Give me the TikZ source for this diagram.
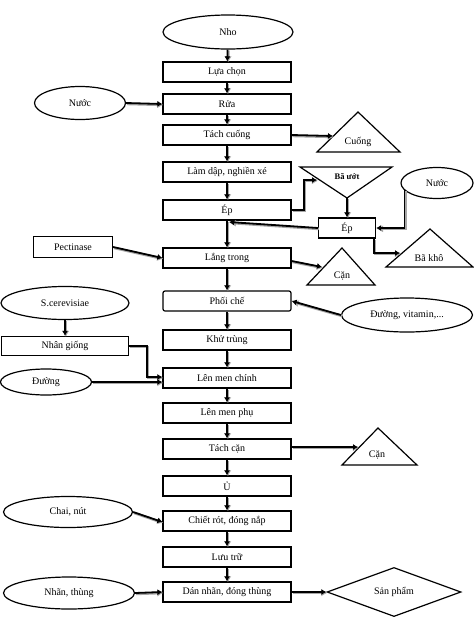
\documentclass[tikz,border=0pt]{standalone}
\usepackage{fontspec}
\setmainfont{Liberation Serif}
\usepackage{tikz}
\usetikzlibrary{calc}
\usetikzlibrary{arrows.meta}
\usetikzlibrary{shapes}
\usetikzlibrary{shapes.geometric}
\tikzset{>=latex}
\tikzstyle{stepbox} = [rectangle, draw=black, line width=1.2pt, minimum width=128pt, minimum height=20pt, inner sep=0pt]
\tikzstyle{sidebox} = [rectangle, draw=black, line width=1.2pt, inner sep=0pt]
\tikzstyle{oval} = [ellipse, draw=black, line width=1.2pt, inner sep=0pt]
\tikzstyle{tri} = [draw=black, line width=1.2pt, line join=miter]
\tikzstyle{flow} = [-{Latex[length=5pt, width=6pt]}, line width=1.8pt, draw=black, preaction={draw=black!35, line width=2.6pt, -{Latex[length=6pt, width=7pt]}, transform canvas={shift={(0.9pt,-0.9pt)}}}]

\begin{document}
\begin{tikzpicture}[x=1pt, y=-1pt, font=\fontsize{10}{12}\selectfont]
\useasboundingbox (0, 0) rectangle (474, 625);
\node [oval, minimum width=130pt, minimum height=34pt] (nho) at (228, 32) {Nho};
\node [stepbox] (lua) at (227, 72) {Lựa chọn};
\node [stepbox] (rua) at (227, 104) {Rửa};
\node [stepbox] (tach) at (227, 135) {Tách cuống};
\node [stepbox] (lam) at (227, 172) {Làm dập, nghiền xé};
\node [stepbox] (ep) at (227, 210) {Ép};
\node [stepbox] (lang) at (227, 258) {Lắng trong};
\node [stepbox, rounded corners=2pt] (phoi) at (227, 301) {Phối chế};
\node [stepbox] (khu) at (227, 340) {Khử trùng};
\node [stepbox] (chinh) at (227, 378) {Lên men chính};
\node [stepbox] (phu) at (227, 413) {Lên men phụ};
\node [stepbox] (tachcan) at (227, 449) {Tách cặn};
\node [stepbox] (u) at (227, 486) {Ủ};
\node [stepbox] (chiet) at (227, 521) {Chiết rót, đóng nắp};
\node [stepbox] (luu) at (227, 557) {Lưu trữ};
\node [stepbox] (dan) at (227, 592) {Dán nhãn, đóng thùng};

\node [oval, minimum width=91pt, minimum height=33pt] (nuoc1) at (80, 103) {Nước};
\node [oval, minimum width=72pt, minimum height=31pt] (nuoc2) at (437, 183) {Nước};
\node [sidebox, minimum width=57pt, minimum height=20pt] (epphu) at (347, 228) {Ép};
\node [sidebox, minimum width=79pt, minimum height=21pt] (pect) at (73, 247) {Pectinase};
\node [oval, minimum width=128pt, minimum height=33pt] (scer) at (65, 303) {S.cerevisiae};
\node [oval, minimum width=131pt, minimum height=34pt] (vitamin) at (407, 315) {Đường, vitamin,...};
\node [sidebox, minimum width=127pt, minimum height=19pt] (nhan) at (65, 346) {Nhân giống};
\node [oval, minimum width=91pt, minimum height=26pt] (duong) at (46, 382) {Đường};
\node [oval, minimum width=129pt, minimum height=31pt] (chai) at (68, 512) {Chai, nút};
\node [oval, minimum width=131pt, minimum height=32pt] (nhanthung) at (69, 593) {Nhãn, thùng};
\node [diamond, draw=black, line width=1.2pt, inner sep=0pt, minimum width=134pt, minimum height=43pt] (sanpham) at (394, 592) {Sản phẩm};

\draw [tri] (317, 152) -- (358, 112) -- (400, 152) -- cycle;
\draw [tri] (300, 167) -- (392, 167) -- (347, 198) -- cycle;
\draw [tri] (386, 267) -- (430, 229) -- (473, 267) -- cycle;
\draw [tri] (307, 285) -- (342, 248) -- (375, 285) -- cycle;
\draw [tri] (342, 465) -- (378, 428) -- (417, 465) -- cycle;
\node (cuong) at (358, 142) {Cuống};
\node [font=\fontsize{8.5}{10}\selectfont\bfseries] (buot) at (347, 177) {Bã ướt};
\node (bakho) at (429, 258) {Bã khô};
\node (can1) at (342, 276) {Cặn};
\node (can2) at (377, 455) {Cặn};
\coordinate (cuong in) at (333, 136);
\coordinate (buot in) at (317, 180);
\coordinate (buot out) at (347, 198);
\coordinate (bakho in) at (400, 253);
\coordinate (can1 in) at (322, 267);
\coordinate (can2 in) at (358, 447);
\coordinate (join) at (229, 222);

\draw [flow] (nho) -- (lua);
\draw [flow] (lua) -- (rua);
\draw [flow] (rua) -- (tach);
\draw [flow] (tach) -- (lam);
\draw [flow] (lam) -- (ep);
\draw [flow] (ep) -- (lang);
\draw [flow] (lang) -- (phoi);
\draw [flow] (phoi) -- (khu);
\draw [flow] (khu) -- (chinh);
\draw [flow] (chinh) -- (phu);
\draw [flow] (phu) -- (tachcan);
\draw [flow] (tachcan) -- (u);
\draw [flow] (u) -- (chiet);
\draw [flow] (chiet) -- (luu);
\draw [flow] (luu) -- (dan);

\draw [flow] (nuoc1.east) -- (rua.west);
\draw [flow] (tach.east) -- (cuong in);
\draw [flow] (ep.east) -- ++(12, 0) |- (buot in);
\draw [flow] (buot out) -- (epphu.north);
\draw [flow] (nuoc2.193) |- (epphu.east);
\draw [flow] (epphu.west) -- (join);
\draw [flow] ([xshift=-2pt]epphu.south east) |- (bakho in);
\draw [flow] (pect.east) -- (lang.west);
\draw [flow] ([yshift=-3pt]lang.east) -- (can1 in);
\draw [flow] (vitamin.west) -- (phoi.east);
\draw [flow] (scer) -- (nhan);
\draw [flow] (nhan.east) -- ++(18, 0) |- ([yshift=1pt]chinh.west);
\draw [flow] (duong.east) -- ([yshift=-4pt]chinh.west);
\draw [flow] ([yshift=2pt]tachcan.east) -- (can2 in);
\draw [flow] (chai.east) -- ([yshift=-1pt]chiet.west);
\draw [flow] (nhanthung.east) -- (dan.west);
\draw [flow] (dan.east) -- (sanpham.west);
\end{tikzpicture}
\end{document}
